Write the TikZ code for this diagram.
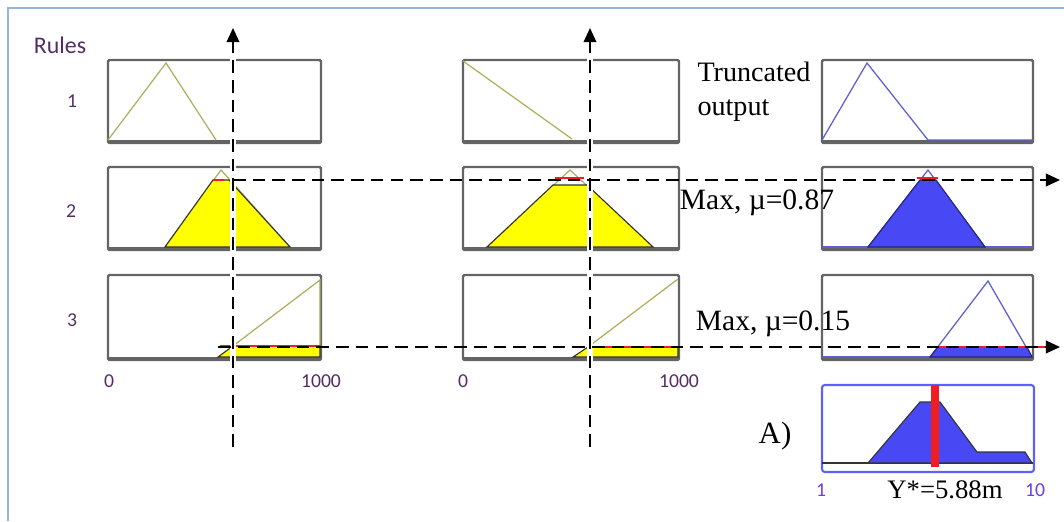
\documentclass[tikz,border=0pt]{standalone}
\usepackage{fontspec}
\setmainfont{Liberation Serif}
\newfontfamily\calfont{Carlito}
\definecolor{rborder}{RGB}{150,180,222}
\definecolor{rgray}{RGB}{100,100,100}
\definecolor{rolive}{RGB}{175,175,95}
\definecolor{ryellow}{RGB}{255,255,0}
\definecolor{rblue}{RGB}{72,72,245}
\definecolor{rblueline}{RGB}{95,95,205}
\definecolor{rbox}{RGB}{95,95,250}
\definecolor{rred}{RGB}{240,30,30}
\definecolor{rpurple}{RGB}{85,45,100}
\definecolor{rviolet}{RGB}{110,60,230}
\usetikzlibrary{arrows.meta}

\begin{document}
\begin{tikzpicture}[x=0.025cm, y=-0.025cm,
  panel/.style={draw=rgray, line width=1.7pt, rounded corners=1pt},
  basebar/.style={draw=rgray, line width=1.8pt},
  mfin/.style={draw=rolive, line width=0.9pt},
  mfout/.style={draw=rblueline, line width=0.9pt},
  cutin/.style={fill=ryellow, draw=black!80, line width=0.8pt},
  cutout/.style={fill=rblue, draw=black!50!rblue, line width=0.8pt},
  level/.style={draw=rred, line width=0.9pt},
  gap/.style={draw=white, line width=4.5pt},
  guide/.style={draw=black, line width=1.1pt, dash pattern=on 9pt off 5pt,
                -{Triangle[length=10pt,width=9pt]}},
  serif/.style={font=\fontsize{21}{25}\selectfont, inner sep=0pt},
  tick/.style={font=\calfont\fontsize{14}{16}\selectfont, inner sep=0pt, text=rpurple}
]
\useasboundingbox (0,0) rectangle (1064,521);

% frame
\draw[rborder, line width=1.5pt] (8,521) -- (8,8) -- (1064,8);

% input panels, first column
\draw[panel] (108,60) rectangle (321,143);
\draw[basebar] (108,141) -- (321,141);
\draw[panel] (108,167) rectangle (321,250);
\draw[basebar] (108,248) -- (321,248);
\draw[panel] (108,275) rectangle (321,360);
\draw[basebar] (108,358) -- (321,358);

% input panels, second column
\draw[panel] (463,60) rectangle (679,143);
\draw[basebar] (463,141) -- (679,141);
\draw[panel] (463,167) rectangle (679,250);
\draw[basebar] (463,248) -- (679,248);
\draw[panel] (463,275) rectangle (679,360);
\draw[basebar] (463,358) -- (679,358);

% output panels
\draw[panel] (822,60) rectangle (1033,143);
\draw[basebar] (822,141) -- (1033,141);
\draw[panel] (822,167) rectangle (1033,250);
\draw[basebar] (822,248) -- (1033,248);
\draw[panel] (822,275) rectangle (1033,360);
\draw[basebar] (822,358) -- (1033,358);

% rule 1
\draw[mfin] (108,140) -- (166,63) -- (216,140);
\draw[mfin] (463,61) -- (572,139);
\draw[mfout] (822,140) -- (867,63) -- (928,140) -- (1033,140);

% rule 2
\draw[mfin] (165,247) -- (221,170) -- (290,247);
\draw[cutin] (165,247) -- (213,180) -- (229,180) -- (290,247) -- cycle;
\draw[level] (213,180) -- (224,180);
\draw[mfin] (487,247) -- (570,170) -- (653,247);
\draw[cutin] (487,247) -- (553,185) -- (587,185) -- (653,247) -- cycle;
\draw[level] (555,178) -- (584,178);
\draw[mfout] (822,247) -- (1033,247);
\draw[mfout] (868,247) -- (928,170) -- (985,247);
\draw[cutout] (868,247) -- (920,180) -- (936,180) -- (985,247) -- cycle;
\draw[level] (917,178) -- (938,178);

% rule 3
\draw[cutin] (218,357) -- (233,346) -- (320,346) -- (320,357) -- cycle;
\draw[mfin] (233,346) -- (320,280) -- (320,346);
\draw[level] (220,346) -- (321,346);
\draw[cutin] (573,357) -- (588,347) -- (678,347) -- (678,357) -- cycle;
\draw[mfin] (588,347) -- (678,279);
\draw[level] (590,347) -- (678,347);
\draw[mfout] (822,357) -- (930,357);
\draw[mfout] (930,357) -- (988,281) -- (1029,352);
\draw[cutout] (930,357) -- (938,347) -- (1027,347) -- (1032,357) -- cycle;
\draw[level] (936,347) -- (1045,347);

% aggregated output
\draw[draw=rbox, line width=1.5pt, rounded corners=2pt] (822,385) rectangle (1034,472);
\draw[black!80, line width=1.2pt] (822,463) -- (1033,463);
\draw[cutout, draw=black!80] (868,463) -- (920,402) -- (940,402) -- (977,452)
  -- (1025,452) -- (1032,463) -- cycle;
\draw[rred, line width=5.5pt] (935,385) -- (935,467);

% guide lines
\coordinate (v1b) at (233,447);
\coordinate (v1t) at (233,28);
\coordinate (v2b) at (590,447);
\coordinate (v2t) at (590,28);
\coordinate (h1a) at (233,180);
\coordinate (h1b) at (1060,180);
\coordinate (h2a) at (218,347);
\coordinate (h2b) at (1060,347);
\draw[gap] (233,50) -- (233,445);
\draw[gap] (590,50) -- (590,445);
\draw[guide] (v1b) -- (v1t);
\draw[guide] (v2b) -- (v2t);
\draw[guide] (h1a) -- (h1b);
\draw[guide] (h2a) -- (h2b);

% labels
\node[tick, font=\calfont\fontsize{17}{20}\selectfont] (rules) at (60,45) {Rules};
\node[tick] (r1) at (72,101) {1};
\node[tick] (r2) at (71,211) {2};
\node[tick] (r3) at (72,320) {3};
\node[tick] (a0) at (109,381) {0};
\node[tick] (a1) at (321,381) {1000};
\node[tick] (b0) at (463,381) {0};
\node[tick] (b1) at (679,381) {1000};
\node[tick, text=rviolet] (y0) at (821,490) {1};
\node[tick, text=rviolet] (y1) at (1035,490) {10};

\node[serif, align=left, font=\fontsize{20}{24}\selectfont] (trunc) at (754,92) {Truncated\\output};
\node[serif] (max1) at (757,203) {Max, \textmu=0.87};
\node[serif] (max2) at (773,324) {Max, \textmu=0.15};
\node[serif, font=\fontsize{22}{26}\selectfont] (casea) at (775,436) {A)};
\node[serif, font=\fontsize{19}{23}\selectfont] (ystar) at (945,490) {Y*=5.88m};
\end{tikzpicture}
\end{document}
